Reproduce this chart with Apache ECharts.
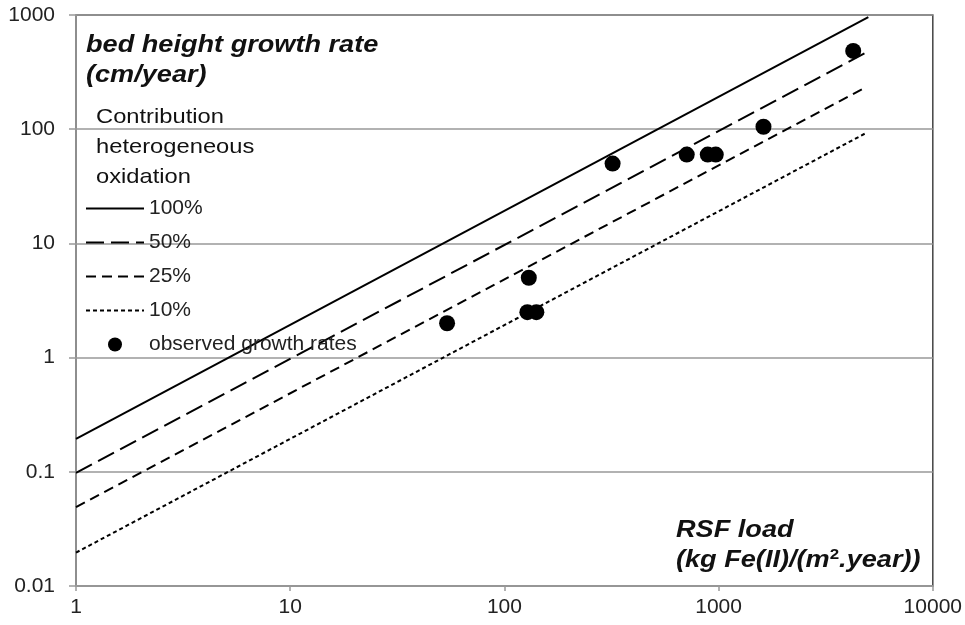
<!DOCTYPE html>
<html>
<head>
<meta charset="utf-8">
<script src="https://cdn.jsdelivr.net/npm/echarts@6/dist/echarts.min.js"></script>
<style>
html,body{margin:0;padding:0;background:#fff;}
#chart{width:965px;height:625px;}
</style>
</head>
<body>
<div id="chart"></div>
<script>
// Data
const xTicks = [1, 10, 100, 1000, 10000];
const yTicks = [0.01, 0.1, 1, 10, 100, 1000];
const seriesNames = ['100%', '50%', '25%', '10%'];
const line100 = [[1, 0.194], [5000, 960]];
const line50 = [[1, 0.098], [5000, 480]];
const line25 = [[1, 0.049], [4800, 230]];
const line10 = [[1, 0.0196], [4900, 93]];
const observedX = [54, 128, 141, 130, 320, 710, 890, 970, 1620, 4250];
const observedY = [2.0, 2.5, 2.5, 5.0, 50, 60, 60, 60, 105, 485];

const FONT = '"Liberation Sans", Arial, sans-serif';
const lineData = [line100, line50, line25, line10];
const dashes = ['solid', [18, 7], [10, 6], [4, 3]];

const chart = echarts.init(document.getElementById('chart'));
const series = lineData.map((d, i) => ({
  name: seriesNames[i],
  type: 'line',
  data: d,
  symbol: 'none',
  lineStyle: { color: '#000', width: 2, type: dashes[i] },
  itemStyle: { color: '#000' },
  z: 3
}));
series.push({
  name: 'observed growth rates',
  type: 'scatter',
  data: observedX.map((x, i) => [x, observedY[i]]),
  symbol: 'circle',
  symbolSize: 16,
  itemStyle: { color: '#000', opacity: 1 },
  z: 4
});

const legendData = seriesNames.map(n => ({ name: n, itemStyle: { opacity: 0 } }));
legendData.push({ name: 'observed growth rates' });

function txt(left, top, text, font, sx) {
  return { type: 'text', left: left, top: top, scaleX: sx, style: { text: text, font: font, fill: '#111' } };
}

chart.setOption({
  animation: false,
  backgroundColor: '#fff',
  grid: { left: 76, right: 32, top: 15, bottom: 39, show: true, borderColor: '#444', borderWidth: 1.5 },
  xAxis: {
    type: 'log', logBase: 10, min: xTicks[0], max: xTicks[xTicks.length - 1],
    axisLine: { lineStyle: { color: '#999', width: 1.5 } },
    axisTick: { show: true, length: 5, lineStyle: { color: '#999', width: 1.5 } },
    axisLabel: { color: '#222', fontFamily: FONT, fontSize: 21, margin: 11, formatter: v => String(v) },
    splitLine: { show: false },
    minorTick: { show: false }
  },
  yAxis: {
    type: 'log', logBase: 10, min: yTicks[0], max: yTicks[yTicks.length - 1],
    axisLine: { lineStyle: { color: '#999', width: 1.5 } },
    axisTick: { show: true, length: 7, lineStyle: { color: '#999', width: 1.5 } },
    axisLabel: { color: '#222', fontFamily: FONT, fontSize: 21, margin: 21, formatter: v => String(v) },
    splitLine: { show: true, lineStyle: { color: '#999', width: 1.5 } }
  },
  legend: {
    orient: 'vertical', left: 85, top: 198, padding: 0,
    itemWidth: 58, itemHeight: 14, itemGap: 13,
    textStyle: { color: '#222', fontFamily: FONT, fontSize: 21 },
    data: legendData
  },
  graphic: [
    txt(86, 33, 'bed height growth rate', 'italic bold 24px ' + FONT, 1.13),
    txt(86, 63, '(cm/year)', 'italic bold 24px ' + FONT, 1.13),
    txt(96, 107, 'Contribution', '21px ' + FONT, 1.13),
    txt(96, 137, 'heterogeneous', '21px ' + FONT, 1.13),
    txt(96, 167, 'oxidation', '21px ' + FONT, 1.13),
    txt(676, 518, 'RSF load', 'italic bold 24px ' + FONT, 1.13),
    { type: 'text', left: 676, top: 547, scaleX: 1.13, style: {
        text: '{a|(kg Fe(II)/(m}{s|2}{a|.year))}',
        rich: {
          a: { font: 'italic bold 24px ' + FONT, fill: '#111', verticalAlign: 'bottom' },
          s: { font: 'bold 15px ' + FONT, fill: '#111', verticalAlign: 'top', padding: [0, 0, 10, 0] }
        }
    } }
  ],
  series: series
});
</script>
</body>
</html>
